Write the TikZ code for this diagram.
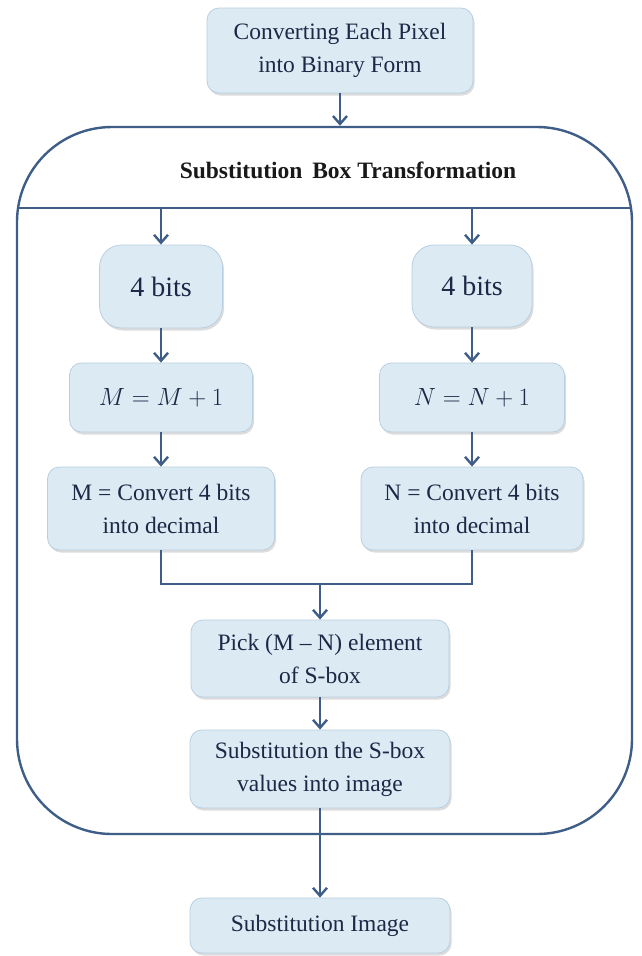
\documentclass[tikz,border=0pt]{standalone}
\usepackage{fontspec}
\setmainfont{Liberation Serif}
\usetikzlibrary{arrows.meta,shadows}
\definecolor{boxfill}{HTML}{DCEAF4}
\definecolor{boxborder}{HTML}{B9CFE1}
\definecolor{linec}{HTML}{3E5E88}
\definecolor{txt}{HTML}{1C2846}
\tikzset{
  box/.style={draw=boxborder, line width=0.8pt, fill=boxfill, rounded corners=12pt,
    align=center, text=txt, inner sep=0pt, font=\fontsize{23.5}{33}\selectfont,
    drop shadow={shadow xshift=1.5pt, shadow yshift=-2.5pt, fill=black!30, opacity=0.45}},
  bitbox/.style={box, rounded corners=22pt, font=\fontsize{28}{33}\selectfont},
  mathbox/.style={box, font=\fontsize{28}{33}\selectfont},
  conn/.style={draw=linec, line width=2.6pt},
  arr/.style={conn, -{Straight Barb[length=8pt,width=14pt,line width=2.4pt]}},
  frame/.style={draw=linec, line width=2.4pt, rounded corners=95pt}
}
\begin{document}
\begin{tikzpicture}[x=1pt,y=-1pt]
\useasboundingbox (0,0) rectangle (641,956);
% container
\node[frame, minimum width=615pt, minimum height=707pt, inner sep=0pt] (cont) at (324.5,480.5) {};
\coordinate (hl) at (17,208);
\coordinate (hr) at (632,208);
\draw[conn, line width=2.4pt] (hl) -- (hr);
\node[font=\bfseries\fontsize{23.5}{26}\selectfont, text=black!90] (title) at (348,170) {Substitution\, Box Transformation};
% boxes
\node[box, minimum width=266pt, minimum height=85pt] (top) at (340,50.5) {Converting Each Pixel\\into Binary Form};
\node[bitbox, minimum width=123pt, minimum height=83pt] (bl) at (161,286.5) {4 bits};
\node[bitbox, minimum width=120pt, minimum height=82pt] (br) at (472,286) {4 bits};
\node[mathbox, minimum width=183pt, minimum height=69pt] (ml) at (161,397.5) {$M = M + 1$};
\node[mathbox, minimum width=185pt, minimum height=69pt] (nr) at (472,397.5) {$N = N + 1$};
\node[box, minimum width=227pt, minimum height=83pt] (mc) at (161,508.5) {M = Convert 4 bits\\into decimal};
\node[box, minimum width=222pt, minimum height=83pt] (nc) at (472,508.5) {N = Convert 4 bits\\into decimal};
\node[box, minimum width=258pt, minimum height=77pt] (pick) at (320,658.5) {Pick (M – N) element\\of S-box};
\node[box, minimum width=260pt, minimum height=78pt] (sub) at (320,769) {Substitution the S-box\\values into image};
\node[box, minimum width=260pt, minimum height=55pt] (fin) at (320,925.5) {Substitution Image};
% connectors
\draw[arr] (top.south) -- (top.south |- cont.north);
\coordinate (la) at (161,208);
\coordinate (ra) at (472,208);
\draw[arr] (la) -- (bl.north);
\draw[arr] (ra) -- (br.north);
\draw[arr] (bl.south) -- (ml.north);
\draw[arr] (br.south) -- (nr.north);
\draw[arr] (ml.south) -- (mc.north);
\draw[arr] (nr.south) -- (nc.north);
\coordinate (jl) at (161,584);
\coordinate (jr) at (472,584);
\coordinate (jm) at (320,584);
\draw[conn] (mc.south) -- (jl) -- (jr) -- (nc.south);
\draw[arr] (jm) -- (pick.north);
\draw[arr] (pick.south) -- (sub.north);
\draw[arr] (sub.south) -- (fin.north);
\end{tikzpicture}
\end{document}
